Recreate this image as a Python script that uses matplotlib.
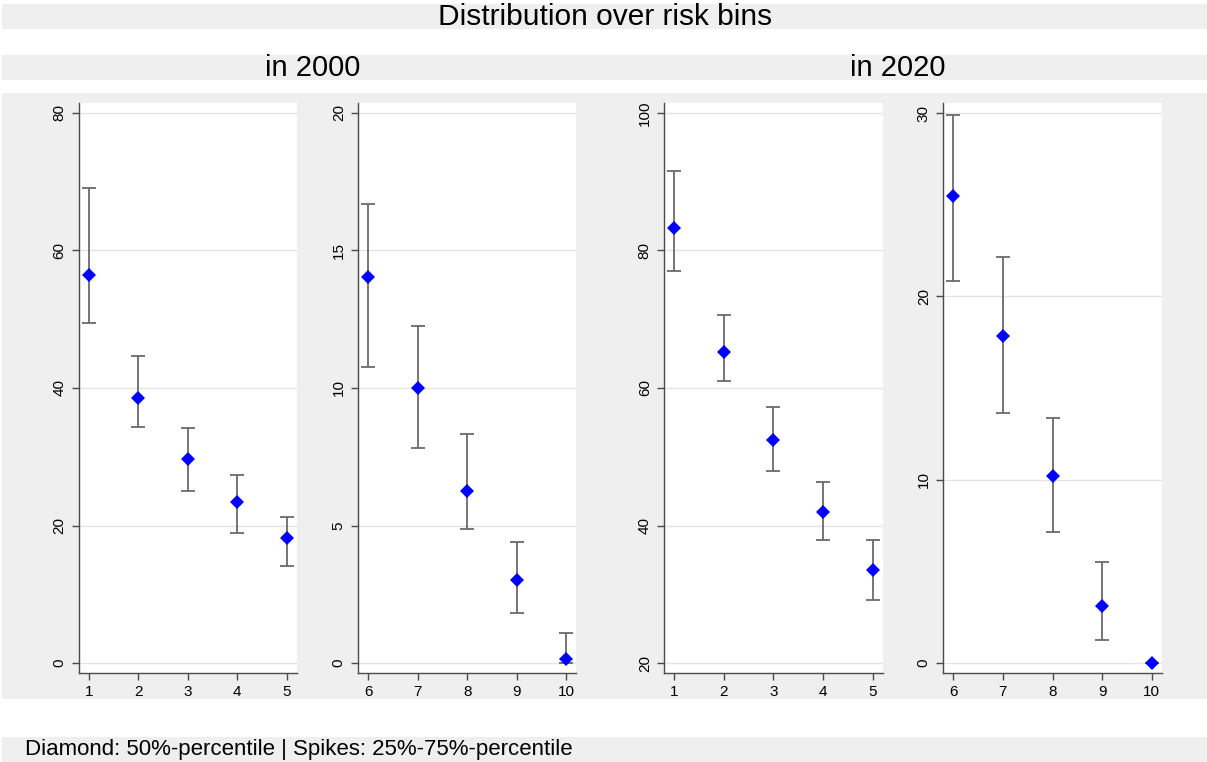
import numpy as np
import matplotlib
matplotlib.use("Agg")
import matplotlib.pyplot as plt
from matplotlib.patches import Rectangle

plt.rcParams['font.family'] = ['Liberation Sans', 'DejaVu Sans']

# ---------------------------------------------------------------
# Data: median (diamond) and 25%/75% percentiles (spikes) per risk bin
# ---------------------------------------------------------------
bins_low = [1, 2, 3, 4, 5]
bins_high = [6, 7, 8, 9, 10]

med_2000_low = [56.5, 38.5, 29.7, 23.4, 18.25]
p25_2000_low = [49.45, 34.4, 25.0, 18.85, 14.15]
p75_2000_low = [69.1, 44.6, 34.15, 27.3, 21.3]

med_2000_high = [14.03, 10.01, 6.27, 3.03, 0.14]
p25_2000_high = [10.75, 7.81, 4.89, 1.82, 0.0]
p75_2000_high = [16.69, 12.27, 8.31, 4.41, 1.09]

med_2020_low = [83.2, 65.3, 52.5, 42.0, 33.5]
p25_2020_low = [77.05, 61.0, 47.9, 37.9, 29.1]
p75_2020_low = [91.5, 70.6, 57.2, 46.3, 37.9]

med_2020_high = [25.49, 17.81, 10.2, 3.09, 0.0]
p25_2020_high = [20.84, 13.63, 7.13, 1.25, 0.0]
p75_2020_high = [29.88, 22.13, 13.36, 5.49, 0.0]

yticks_2000_low = [0, 20, 40, 60, 80]
yticks_2000_high = [0, 5, 10, 15, 20]
yticks_2020_low = [20, 40, 60, 80, 100]
yticks_2020_high = [0, 10, 20, 30]

title = "Distribution over risk bins"
subtitles = ["in 2000", "in 2020"]
note = "Diamond: 50%-percentile | Spikes: 25%-75%-percentile"

# ---------------------------------------------------------------
# Layout helpers (pixel -> figure fraction)
# ---------------------------------------------------------------
W, H = 1207, 762
BAND = '#efefef'


def fx(px):
    return px / W


def fy(py):
    return 1 - py / H


def band(fig, top, bottom, left=2, right=W):
    fig.add_artist(Rectangle((fx(left), fy(bottom)), fx(right - left), (bottom - top) / H,
                             transform=fig.transFigure, facecolor=BAND, edgecolor='none', zorder=0))


fig = plt.figure(figsize=(W / 100, H / 100), dpi=100)
fig.patch.set_facecolor('white')

band(fig, 4, 29)
band(fig, 55, 80)
band(fig, 93, 699)
band(fig, 737, 762)

fig.text(fx(605), fy(17), title, ha='center', va='center', fontsize=21.5)
fig.text(fx(313), fy(68), subtitles[0], ha='center', va='center', fontsize=21)
fig.text(fx(898), fy(68), subtitles[1], ha='center', va='center', fontsize=21)
fig.text(fx(25), fy(750), note, ha='left', va='center', fontsize=16)

panels = [
    (79, 296.6, bins_low, med_2000_low, p25_2000_low, p75_2000_low, yticks_2000_low),
    (358.3, 576, bins_high, med_2000_high, p25_2000_high, p75_2000_high, yticks_2000_high),
    (664.3, 882.6, bins_low, med_2020_low, p25_2020_low, p75_2020_low, yticks_2020_low),
    (943.3, 1161.7, bins_high, med_2020_high, p25_2020_high, p75_2020_high, yticks_2020_high),
]

top, bottom = 103, 673
AXC = '#4a4a4a'

for left, right, x, med, p25, p75, yt in panels:
    ax = fig.add_axes([fx(left), fy(bottom), (right - left) / W, (bottom - top) / H])
    ax.set_facecolor('white')
    med = np.array(med)
    yerr = [med - np.array(p25), np.array(p75) - med]
    ax.errorbar(x, med, yerr=yerr, fmt='none', ecolor='#6a6a6a', elinewidth=1.3,
                capsize=5, capthick=1.3, zorder=2)
    ax.plot(x, med, 'D', color='#0000ff', markersize=7, markeredgewidth=0, zorder=3)

    span = yt[-1] - yt[0]
    pad = span * 10 / 550
    ax.set_ylim(yt[0] - pad, yt[-1] + pad)
    ax.set_yticks(yt)
    ax.set_xlim(x[0] - 0.2, x[-1] + 0.2)
    ax.set_xticks(x)

    ax.yaxis.grid(True, color='#e4e4e4', linewidth=1.0)
    ax.set_axisbelow(True)
    for s in ['top', 'right']:
        ax.spines[s].set_visible(False)
    for s in ['left', 'bottom']:
        ax.spines[s].set_color(AXC)
        ax.spines[s].set_linewidth(1.0)
    ax.tick_params(axis='both', colors=AXC, labelcolor='black', length=5, width=1.0,
                   labelsize=11)
    ax.tick_params(axis='y', labelrotation=90, pad=4)
    ax.tick_params(axis='x', pad=4)
    for lab in ax.get_yticklabels():
        lab.set_va('center')

plt.savefig("out.png", dpi=100)
